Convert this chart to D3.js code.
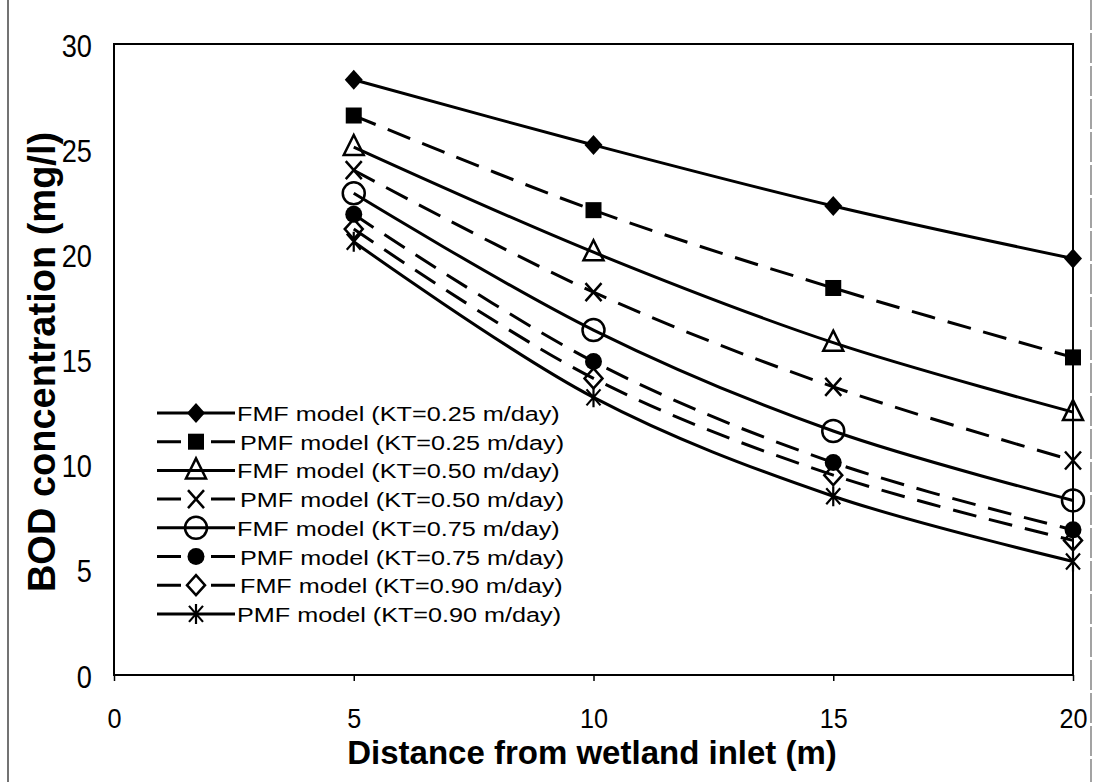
<!DOCTYPE html>
<html><head><meta charset="utf-8">
<script src="https://cdn.jsdelivr.net/npm/d3@7"></script>
<style>body{margin:0;background:#fff}svg{display:block}</style>
</head><body>
<svg id="c" width="1098" height="782"></svg>
<script>
const distances = [5, 10, 15, 20];
const seriesNames = [
  "FMF model (KT=0.25 m/day)",
  "PMF model (KT=0.25 m/day)",
  "FMF model (KT=0.50 m/day)",
  "PMF model (KT=0.50 m/day)",
  "FMF model (KT=0.75 m/day)",
  "PMF model (KT=0.75 m/day)",
  "FMF model (KT=0.90 m/day)",
  "PMF model (KT=0.90 m/day)"
];
const fmf025 = [28.3, 25.2, 22.3, 19.8];
const pmf025 = [26.6, 22.1, 18.4, 15.1];
const fmf050 = [25.1, 20.1, 15.8, 12.5];
const pmf050 = [24.0, 18.2, 13.7, 10.2];
const fmf075 = [22.9, 16.4, 11.6, 8.3];
const pmf075 = [21.9, 14.9, 10.1, 6.9];
const fmf090 = [21.2, 14.1, 9.5, 6.4];
const pmf090 = [20.6, 13.2, 8.5, 5.4];
const xTicks = [0, 5, 10, 15, 20];
const yTicks = [0, 5, 10, 15, 20, 25, 30];
const markerTypes = ["diamond", "square", "triangle", "x", "circle", "dot", "odiamond", "asterisk"];
const dashedFlags = [false, true, false, true, false, true, true, false];

const values = [fmf025, pmf025, fmf050, pmf050, fmf075, pmf075, fmf090, pmf090];
const series = seriesNames.map((n, i) => ({name: n, values: values[i], marker: markerTypes[i], dashed: dashedFlags[i]}));

const svg = d3.select("#c");
const L = 114, R = 1073, T = 44, B = 675;
const x = d3.scaleLinear().domain([0, 20]).range([L, R]);
const y = d3.scaleLinear().domain([0, 30]).range([B, T]);
const FONT = "Liberation Sans, Arial, sans-serif";

// scan borders
svg.append("line").attr("x1", 8).attr("x2", 8).attr("y1", 0).attr("y2", 782).attr("stroke", "#444").attr("stroke-width", 1.5);
svg.append("line").attr("x1", 1091).attr("x2", 1091).attr("y1", 0).attr("y2", 782).attr("stroke", "#666").attr("stroke-width", 1.2).attr("stroke-dasharray", "30 3");

// plot frame
svg.append("rect").attr("x", L).attr("y", T).attr("width", R - L).attr("height", B - T)
  .attr("fill", "none").attr("stroke", "#000").attr("stroke-width", 2);

// x axis
const xAxis = svg.append("g").attr("transform", `translate(0,${B})`)
  .call(d3.axisBottom(x).tickValues(xTicks).tickSize(6).tickFormat(d3.format("d")));
xAxis.select(".domain").remove();
xAxis.selectAll("line").attr("stroke", "#000").attr("stroke-width", 1.5);
xAxis.selectAll("text").attr("font-family", FONT).attr("font-size", 28)
  .attr("fill", "#000").attr("y", 0).attr("dy", 0).attr("x", 0)
  .attr("transform", "translate(0,53) scale(0.9,1)");

// y axis
const yAxis = svg.append("g").attr("transform", `translate(${L},0)`)
  .call(d3.axisLeft(y).tickValues(yTicks).tickSize(0).tickPadding(0).tickFormat(d3.format("d")));
yAxis.select(".domain").remove();
yAxis.selectAll("text").attr("font-family", FONT).attr("font-size", 32)
  .attr("fill", "#000").attr("x", 0).attr("dy", 0).attr("text-anchor", "end")
  .attr("transform", "translate(-22,12) scale(0.85,1)");

// titles
svg.append("text").attr("transform", "translate(592,764)")
  .attr("text-anchor", "middle").attr("font-family", FONT)
  .attr("font-weight", "bold").attr("font-size", 33).text("Distance from wetland inlet (m)");
svg.append("text").attr("transform", "translate(55,362) rotate(-90)")
  .attr("text-anchor", "middle").attr("font-family", FONT)
  .attr("font-weight", "bold").attr("font-size", 38).text("BOD concentration (mg/l)");

function drawMarker(g, type) {
  const sw = 2.5;
  switch (type) {
    case "diamond": g.append("path").attr("d", "M0,-10L9,0L0,10L-9,0Z").attr("fill", "#000"); break;
    case "square": g.append("rect").attr("x", -8).attr("y", -8).attr("width", 16).attr("height", 16).attr("fill", "#000"); break;
    case "triangle": g.append("path").attr("d", "M0,-12L10,8L-10,8Z").attr("fill", "none").attr("stroke", "#000").attr("stroke-width", sw); break;
    case "x": g.append("path").attr("d", "M-8,-9L8,9M-8,9L8,-9").attr("stroke", "#000").attr("stroke-width", sw); break;
    case "circle": g.append("circle").attr("r", 11).attr("fill", "none").attr("stroke", "#000").attr("stroke-width", sw); break;
    case "dot": g.append("circle").attr("r", 8.5).attr("fill", "#000"); break;
    case "odiamond": g.append("path").attr("d", "M0,-10L9,0L0,10L-9,0Z").attr("fill", "none").attr("stroke", "#000").attr("stroke-width", sw); break;
    case "asterisk": g.append("path").attr("d", "M-7,-8L7,8M-7,8L7,-8M0,-10L0,10").attr("stroke", "#000").attr("stroke-width", 2.2); break;
  }
}

const line = d3.line().x((d, i) => x(distances[i])).y(d => y(d)).curve(d3.curveCatmullRom.alpha(0.5));

series.forEach(s => {
  svg.append("path").attr("d", line(s.values)).attr("fill", "none").attr("stroke", "#000")
    .attr("stroke-width", 3).attr("stroke-dasharray", s.dashed ? "24 13" : null);
  s.values.forEach((v, i) => {
    const g = svg.append("g").attr("transform", `translate(${x(distances[i])},${y(v)})`);
    drawMarker(g, s.marker);
  });
});

// legend
const legY0 = 413, legDy = 28.7;
series.forEach((s, i) => {
  const yy = legY0 + i * legDy;
  svg.append("line").attr("x1", 157).attr("x2", 235).attr("y1", yy).attr("y2", yy)
    .attr("stroke", "#000").attr("stroke-width", 3).attr("stroke-dasharray", s.dashed ? "24 30 24" : null);
  const g = svg.append("g").attr("transform", `translate(196,${yy})`);
  drawMarker(g, s.marker);
  svg.append("text").attr("transform", `translate(${s.dashed ? 240 : 237},${yy + 8}) scale(1.2,1)`)
    .attr("font-family", FONT).attr("font-size", 21).attr("fill", "#000")
    .text(s.name);
});
</script>
</body></html>
